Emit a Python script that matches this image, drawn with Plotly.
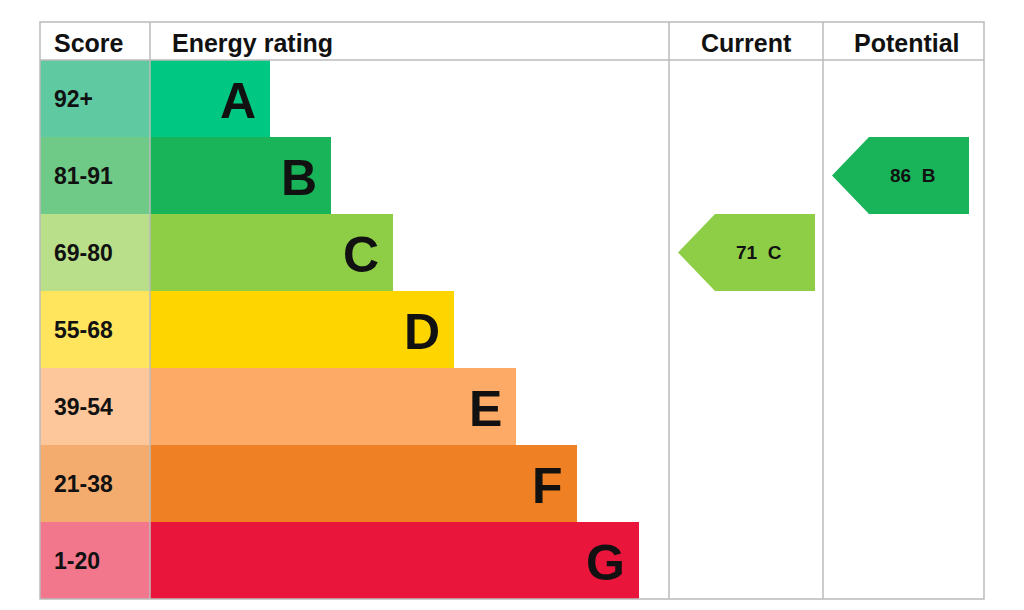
import plotly.graph_objects as go

letters = ["A", "B", "C", "D", "E", "F", "G"]
scores = ["92+", "81-91", "69-80", "55-68", "39-54", "21-38", "1-20"]
bar_ends = [270, 331, 393, 454, 516, 577, 639]
bar_colors = ["#00c781", "#19b459", "#8dce46", "#ffd500", "#fcaa65", "#ef8023", "#e9153b"]
score_colors = ["#5fc9a2", "#6fca88", "#badf8a", "#ffe45e", "#fdc79b", "#f4ab6e", "#f2768c"]
current_value, current_letter = 71, "C"
potential_value, potential_letter = 86, "B"

X0, XS, XC, XP, X1 = 40, 150, 669, 823, 984
Y0, YH, RH = 22, 60, 77
row_c = [YH + RH * i + RH / 2 for i in range(7)]

fig = go.Figure()
fig.add_trace(go.Bar(orientation="h", y=row_c, x=[XS - X0] * 7, base=X0, width=RH,
                     marker=dict(color=score_colors, line=dict(width=0)), hoverinfo="skip"))
fig.add_trace(go.Bar(orientation="h", y=row_c, x=[e - XS for e in bar_ends], base=XS, width=RH,
                     marker=dict(color=bar_colors, line=dict(width=0)), hoverinfo="skip"))

anns = []
for i in range(7):
    anns.append(dict(x=52, y=row_c[i], text="<b>%s</b>" % scores[i], xanchor="left",
                     showarrow=False, font=dict(size=23, color="#111")))
    anns.append(dict(x=bar_ends[i] - 12, y=row_c[i] + 2, text="<b>%s</b>" % letters[i],
                     xanchor="right", showarrow=False, font=dict(size=50, color="#111")))
for x, t in [(52, "Score"), (170, "Energy rating"), (746, "Current"), (907, "Potential")]:
    anns.append(dict(x=x, y=43, text="<b>%s</b>" % t, xanchor="left" if x < 300 else "center",
                     showarrow=False, font=dict(size=25, color="#111")))

def band(v):
    for i, lo in enumerate([92, 81, 69, 55, 39, 21, 1]):
        if v >= lo:
            return i
    return 6

for v, l, xl, xr in [(current_value, current_letter, 678, 815), (potential_value, potential_letter, 832, 969)]:
    i = band(v)
    ci = letters.index(l)
    t, b = YH + RH * i, YH + RH * (i + 1)
    c = (t + b) / 2
    fig.add_trace(go.Scatter(x=[xl, xl + 37, xr, xr, xl + 37, xl], y=[c, t, t, b, b, c],
                             fill="toself", fillcolor=bar_colors[ci], mode="lines",
                             line=dict(width=0), hoverinfo="skip"))
    anns.append(dict(x=(xl + xr) / 2 + 12, y=c, text="<b>%d  %s</b>" % (v, l), showarrow=False,
                     font=dict(size=19, color="#111")))

lc = "#bbbbbb"
shapes = [dict(type="rect", x0=X0, x1=X1, y0=Y0, y1=599, line=dict(color=lc, width=1.5))]
shapes.append(dict(type="line", x0=X0, x1=X1, y0=YH, y1=YH, line=dict(color=lc, width=1.5)))
for x in [XS, XC, XP]:
    shapes.append(dict(type="line", x0=x, x1=x, y0=Y0, y1=599, line=dict(color=lc, width=1.5)))

fig.update_layout(width=1024, height=610, margin=dict(l=0, r=0, t=0, b=0),
                  plot_bgcolor="white", paper_bgcolor="white", showlegend=False,
                  bargap=0, barmode="overlay", annotations=anns, shapes=shapes,
                  font=dict(family="Liberation Sans, Arial, sans-serif"),
                  xaxis=dict(range=[8, 1032], visible=False, fixedrange=True),
                  yaxis=dict(range=[618, 8], visible=False, fixedrange=True))
fig.write_html("out.html")
